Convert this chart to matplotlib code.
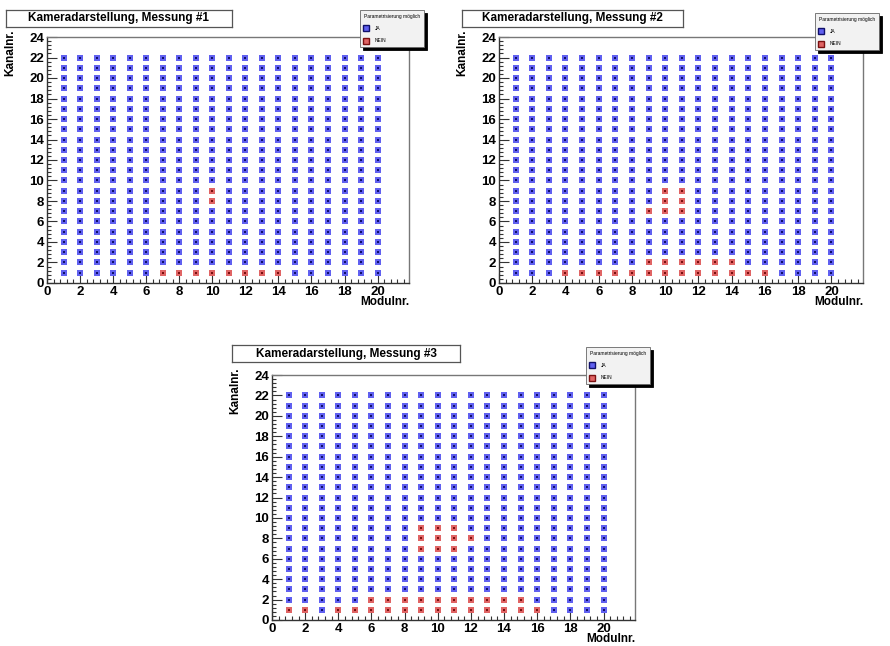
import matplotlib
matplotlib.use("Agg")
import matplotlib.pyplot as plt
from matplotlib.ticker import MultipleLocator
from matplotlib.lines import Line2D

plt.rcParams['font.family'] = ['Liberation Sans', 'DejaVu Sans']

modules = [1, 2, 3, 4, 5, 6, 7, 8, 9, 10, 11, 12, 13, 14, 15, 16, 17, 18, 19, 20]
channels = [1, 2, 3, 4, 5, 6, 7, 8, 9, 10, 11, 12, 13, 14, 15, 16, 17, 18, 19, 20, 21, 22]

titles = ["Kameradarstellung, Messung #1",
          "Kameradarstellung, Messung #2",
          "Kameradarstellung, Messung #3"]

# failed (NEIN) pixels: (module, channel)
nein_1 = [(7, 1), (8, 1), (9, 1), (10, 1), (11, 1), (12, 1), (13, 1), (14, 1),
          (10, 8), (10, 9)]
nein_2 = [(4, 1), (5, 1), (6, 1), (7, 1), (8, 1), (9, 1), (10, 1), (11, 1), (12, 1),
          (13, 1), (14, 1), (15, 1), (16, 1),
          (9, 2), (10, 2), (11, 2), (12, 2), (13, 2), (14, 2),
          (9, 7), (10, 7), (11, 7), (10, 8), (11, 8), (10, 9), (11, 9)]
nein_3 = [(1, 1), (2, 1), (4, 1), (5, 1), (6, 1), (7, 1), (8, 1), (9, 1), (10, 1),
          (11, 1), (12, 1), (13, 1), (14, 1), (15, 1), (16, 1),
          (6, 2), (7, 2), (8, 2), (9, 2), (10, 2), (11, 2), (12, 2), (13, 2), (14, 2), (15, 2),
          (9, 7), (10, 7), (11, 7), (9, 8), (10, 8), (11, 8), (12, 8),
          (9, 9), (10, 9), (11, 9)]
nein_sets = [nein_1, nein_2, nein_3]

legend_title = "Parametrisierung möglich"
legend_labels = ["JA", "NEIN"]
x_label = "Modulnr."
y_label = "Kanalnr."

W, H = 890, 646
fig = plt.figure(figsize=(W / 100, H / 100), dpi=100)

# pixel boxes: left, right, top, bottom
axes_px = [(47, 409, 37, 283), (499, 863, 37, 283), (272, 635, 375, 620)]
title_px = [(6, 232, 10, 27), (462, 683, 10, 27), (232, 460, 345, 362)]
legend_px = [(360, 10), (815, 13), (586, 347)]

blue_face, blue_core = "#6060f0", "#10106a"
red_face, red_core = "#e06464", "#7a1010"

for i in range(3):
    l, r, t, b = axes_px[i]
    ax = fig.add_axes([l / W, 1 - b / H, (r - l) / W, (b - t) / H])
    bad = set(nein_sets[i])
    jx, jy, nx, ny = [], [], [], []
    for m in modules:
        for c in channels:
            if (m, c) in bad:
                nx.append(m); ny.append(c)
            else:
                jx.append(m); jy.append(c)
    ax.scatter(jx, jy, marker='s', s=17, c=blue_face, linewidths=0, zorder=3)
    ax.scatter(jx, jy, marker='s', s=3, c=blue_core, linewidths=0, zorder=4)
    ax.scatter(nx, ny, marker='s', s=17, c=red_face, linewidths=0, zorder=3)
    ax.scatter(nx, ny, marker='s', s=3, c=red_core, linewidths=0, zorder=4)

    ax.set_xlim(0, 21.9)
    ax.set_ylim(0, 24)
    ax.xaxis.set_major_locator(MultipleLocator(2))
    ax.xaxis.set_minor_locator(MultipleLocator(0.4))
    ax.yaxis.set_major_locator(MultipleLocator(2))
    ax.yaxis.set_minor_locator(MultipleLocator(0.4))
    ax.tick_params(which='both', direction='in', top=False, right=False,
                   color='#333333', width=0.8)
    ax.tick_params(which='major', length=7, labelsize=9.5)
    ax.tick_params(axis='x', which='major', pad=2)
    ax.tick_params(axis='y', which='major', pad=2)
    ax.tick_params(which='minor', length=3)
    for lab in ax.get_xticklabels() + ax.get_yticklabels():
        lab.set_fontweight('bold')
    for s in ['left', 'bottom']:
        ax.spines[s].set_color('#333333')
        ax.spines[s].set_linewidth(1.0)
    for s in ['top', 'right']:
        ax.spines[s].set_color('#777777')
        ax.spines[s].set_linewidth(1.0)

    ax.set_xlabel(x_label, loc='right', fontsize=8.5, fontweight='bold', labelpad=-1)
    ax.set_ylabel(y_label, loc='top', fontsize=8.5, fontweight='bold', labelpad=4)
    ax.yaxis.set_label_coords(-0.085, 1.03)

    tl, tr, tt, tb = title_px[i]
    tax = fig.add_axes([tl / W, 1 - tb / H, (tr - tl) / W, (tb - tt) / H])
    tax.set_xticks([]); tax.set_yticks([])
    for s in tax.spines.values():
        s.set_color('#555555'); s.set_linewidth(0.9)
    tax.text(0.5, 0.5, titles[i], ha='center', va='center', fontsize=8.5,
             fontweight='bold', transform=tax.transAxes)

    handles = [Line2D([], [], marker='s', ls='none', markersize=4,
                      markerfacecolor=blue_face, markeredgecolor=blue_core, markeredgewidth=1),
               Line2D([], [], marker='s', ls='none', markersize=4,
                      markerfacecolor=red_face, markeredgecolor=red_core, markeredgewidth=1)]
    lx, ly = legend_px[i]
    leg = fig.legend(handles, legend_labels, title=legend_title,
                     loc='upper left', bbox_to_anchor=(lx / W, 1 - ly / H),
                     fontsize=3.5, title_fontsize=3.5, frameon=True, fancybox=False,
                     shadow={'color': 'black', 'alpha': 1.0},
                     borderpad=0.8, labelspacing=1.5, handletextpad=1.2,
                     handlelength=1.0, borderaxespad=0)
    leg.get_frame().set_facecolor('#f2f2f2')
    leg.get_frame().set_edgecolor('#666666')
    leg.get_frame().set_linewidth(0.6)
    leg.get_frame().set_alpha(1)
    leg._legend_box.align = "left"
    leg.set_zorder(10)

fig.savefig("out.png", dpi=100)
